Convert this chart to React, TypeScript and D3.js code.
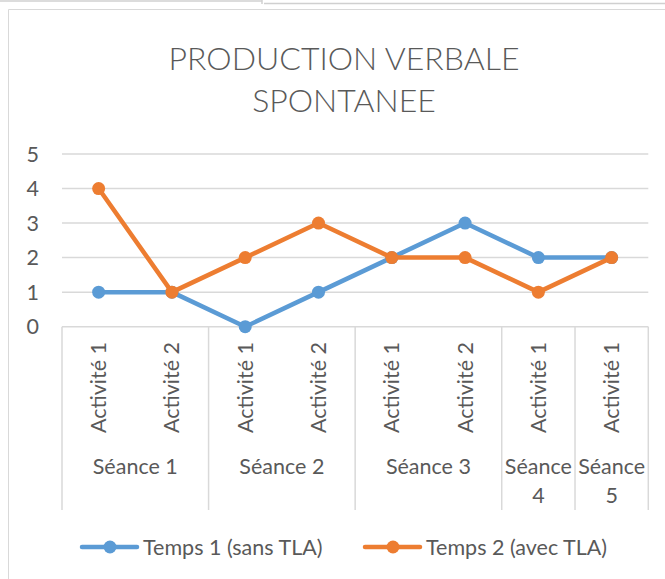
import React from "react";
import * as d3 from "d3";

const activities = ["Activité 1", "Activité 2", "Activité 1", "Activité 2", "Activité 1", "Activité 2", "Activité 1", "Activité 1"];
const seances = [
  { label: ["Séance 1"], count: 2 },
  { label: ["Séance 2"], count: 2 },
  { label: ["Séance 3"], count: 2 },
  { label: ["Séance", "4"], count: 1 },
  { label: ["Séance", "5"], count: 1 },
];
const temps1 = [1, 1, 0, 1, 2, 3, 2, 2];
const temps2 = [4, 1, 2, 3, 2, 2, 1, 2];
const yTicks = [0, 1, 2, 3, 4, 5];
const seriesNames = ["Temps 1 (sans TLA)", "Temps 2 (avec TLA)"];
const colors = ["#5B9BD5", "#ED7D31"];

const W = 665;
const H = 579;
const plotLeft = 62;
const plotRight = 648.3;
const yTop = 154;
const yBottom = 326.7;
const font = "Lato, 'Open Sans', sans-serif";
const textColor = "#595959";
const gridColor = "#D9D9D9";
const fs = 21.5;

export default function App() {
  const idx = activities.map((_, i) => i);
  const x = d3.scaleBand<number>().domain(idx).range([plotLeft, plotRight]).padding(0);
  const y = d3.scaleLinear().domain([0, 5]).range([yBottom, yTop]);
  const cx = (i: number) => (x(i) as number) + x.bandwidth() / 2;
  const line = d3
    .line<number>()
    .x((_, i) => cx(i))
    .y((d) => y(d));

  const bounds: number[] = [0];
  seances.forEach((s) => bounds.push(bounds[bounds.length - 1] + s.count));
  const bx = (k: number) => (k < activities.length ? (x(k) as number) : plotRight);

  const series = [temps1, temps2];

  const legendItems = [
    { x0: 82, name: seriesNames[0], color: colors[0] },
    { x0: 365, name: seriesNames[1], color: colors[1] },
  ];

  return (
    <svg width={W} height={H} style={{ position: "absolute", left: 0, top: 0, background: "#fff" }}>
      <line x1={0} x2={262} y1={1} y2={1} stroke="#D0D0D0" strokeWidth={1.5} />
      <line x1={262} x2={262} y1={0} y2={4} stroke="#D0D0D0" strokeWidth={1.5} />
      <line x1={264} x2={W} y1={3.5} y2={3.5} stroke="#D0D0D0" strokeWidth={1.5} />
      <line x1={8.5} x2={W} y1={9.5} y2={9.5} stroke={gridColor} strokeWidth={1} />
      <line x1={8.5} x2={8.5} y1={9.5} y2={H} stroke={gridColor} strokeWidth={1} />

      <text x={344} y={70} textAnchor="middle" fontFamily={font} fontSize={32} fontWeight={300} fill={textColor}>
        PRODUCTION VERBALE
      </text>
      <text x={344} y={112} textAnchor="middle" fontFamily={font} fontSize={32} fontWeight={300} fill={textColor}>
        SPONTANEE
      </text>

      {yTicks.map((t) => (
        <line key={t} x1={plotLeft} x2={plotRight} y1={y(t)} y2={y(t)} stroke={gridColor} strokeWidth={1.5} />
      ))}
      {yTicks.map((t) => (
        <text key={"l" + t} x={39} y={y(t) + 7.5} textAnchor="end" fontFamily={font} fontSize={fs} fill={textColor}>
          {t}
        </text>
      ))}

      {bounds.map((k, i) => (
        <line key={"b" + i} x1={bx(k)} x2={bx(k)} y1={yBottom} y2={510} stroke={gridColor} strokeWidth={1.5} />
      ))}

      {activities.map((a, i) => (
        <text
          key={"a" + i}
          transform={`translate(${cx(i) + 7.5},433) rotate(-90)`}
          fontFamily={font}
          fontSize={fs}
          fill={textColor}
        >
          {a}
        </text>
      ))}

      {seances.map((s, i) => {
        const mid = (bx(bounds[i]) + bx(bounds[i + 1])) / 2;
        return (
          <text key={"s" + i} x={mid} y={474} textAnchor="middle" fontFamily={font} fontSize={fs} fill={textColor}>
            {s.label.map((l, j) => (
              <tspan key={j} x={mid} dy={j === 0 ? 0 : 29}>
                {l}
              </tspan>
            ))}
          </text>
        );
      })}

      {series.map((s, si) => (
        <g key={"ser" + si}>
          <path d={line(s) || ""} fill="none" stroke={colors[si]} strokeWidth={4.5} strokeLinejoin="round" strokeLinecap="round" />
          {s.map((v, i) => (
            <circle key={i} cx={cx(i)} cy={y(v)} r={6.5} fill={colors[si]} />
          ))}
        </g>
      ))}

      {legendItems.map((it, i) => (
        <g key={"lg" + i}>
          <line x1={it.x0} x2={it.x0 + 55} y1={547} y2={547} stroke={it.color} strokeWidth={4.5} strokeLinecap="round" />
          <circle cx={it.x0 + 28} cy={547} r={6.5} fill={it.color} />
          <text x={it.x0 + 61} y={554.5} fontFamily={font} fontSize={fs} fill={textColor}>
            {it.name}
          </text>
        </g>
      ))}
    </svg>
  );
}
